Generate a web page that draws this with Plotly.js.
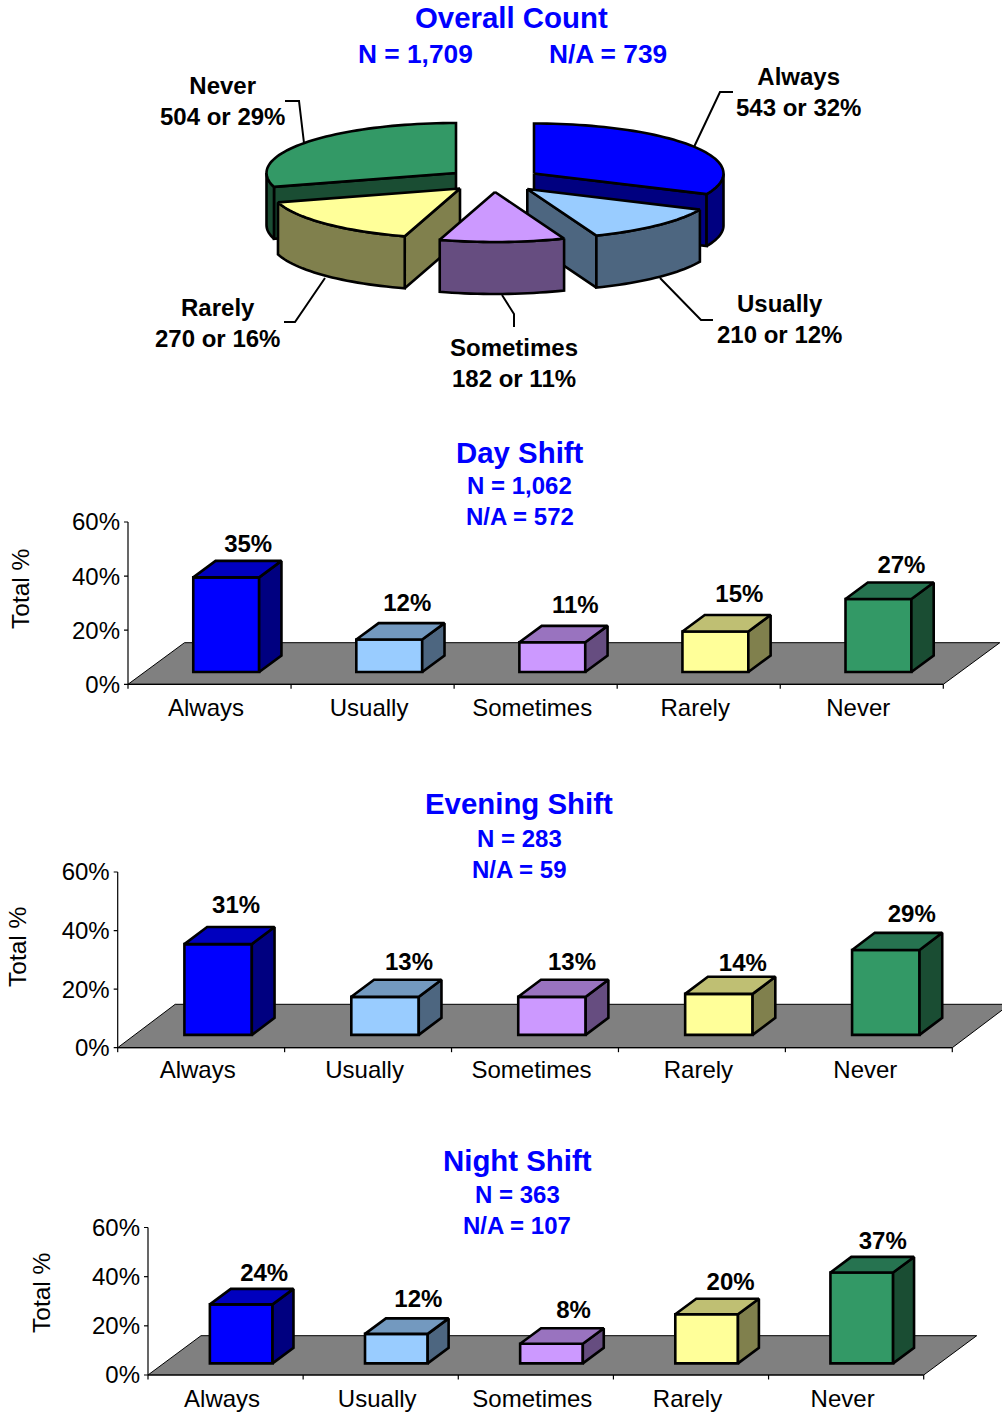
<!DOCTYPE html>
<html>
<head>
<meta charset="utf-8">
<script src="https://cdn.plot.ly/plotly-3.0.1.min.js"></script>
<style>html,body{margin:0;padding:0;background:#fff}#chart{width:1002px;height:1412px}</style>
</head>
<body>
<div id="chart"></div>
<script>
// ---------- data ----------
const categories = ['Always', 'Usually', 'Sometimes', 'Rarely', 'Never'];
const overallCounts = [543, 210, 182, 270, 504];
const overallPercents = [32, 12, 11, 16, 29];
const overallN = '1,709';
const overallNA = '739';
const dayValues = [35, 12, 11, 15, 27];
const dayN = '1,062';
const dayNA = '572';
const eveningValues = [31, 13, 13, 14, 29];
const eveningN = '283';
const eveningNA = '59';
const nightValues = [24, 12, 8, 20, 37];
const nightN = '363';
const nightNA = '107';
const yTickValues = [0, 20, 40, 60];

// ---------- styling ----------
const W = 1002, H = 1412;
const FONT = 'Liberation Sans, Arial, sans-serif';
const BLUE = '#0000FF';
const frontColors = ['#0000FF', '#99CCFF', '#CC99FF', '#FFFF99', '#339966'];
const topColors = ['#0000BF', '#7399BF', '#9973BF', '#BFBF73', '#267350'];
const sideColors = ['#000080', '#4D6680', '#664D80', '#80804D', '#1A4D33'];
const EDGE = 2.6;

const traces = [];
const annotations = [];
const shapes = [];
const layout = {
  width: W, height: H, margin: {l: 0, r: 0, t: 0, b: 0},
  paper_bgcolor: '#fff', plot_bgcolor: 'rgba(0,0,0,0)',
  showlegend: false, barmode: 'overlay', hovermode: false,
  font: {family: FONT, color: '#000'}
};

function textAt(px, py, text, size, color, bold, extra) {
  annotations.push(Object.assign({
    xref: 'paper', yref: 'paper', x: px / W, y: 1 - py / H,
    xanchor: 'center', yanchor: 'middle', showarrow: false,
    text: bold ? '<b>' + text.replace('<br>', '</b><br><b>') + '</b>' : text,
    font: {family: FONT, size: size, color: color}
  }, extra || {}));
}

function poly(xs, ys, fill, xa, ya) {
  traces.push({
    type: 'scatter', mode: 'lines', x: xs, y: ys, xaxis: xa, yaxis: ya,
    fill: 'toself', fillcolor: fill, line: {color: '#000', width: EDGE, simplify: false},
    hoverinfo: 'skip', cliponaxis: false
  });
}

// ---------- overall 3-D pie ----------
layout.xaxis = {domain: [0, 1], range: [0, W], visible: false, fixedrange: true};
layout.yaxis = {domain: [1 - 430 / H, 1], range: [430, 0], visible: false, fixedrange: true};

const pieA = 189.5, pieB = 50, pieDepth = 52;
const pieCenters = [[534, 173.5], [527.3, 189], [495, 192], [460, 188.5], [456, 173]];
const pieOrder = [4, 0, 3, 1, 2];
const leaderLines = [
  [[733, 92], [720, 92], [694, 147]],
  [[713, 320], [701, 320], [660, 278]],
  [[514, 327], [514, 314], [502, 295]],
  [[284, 322], [295, 322], [325, 278]],
  [[285, 101], [299, 101], [304, 143]]
];
const pieLabelPos = [[798, 92.5], [779, 319], [514, 363.5], [217, 322.5], [222, 101.5]];

leaderLines.forEach(l => traces.push({
  type: 'scatter', mode: 'lines', x: l.map(p => p[0]), y: l.map(p => p[1]),
  xaxis: 'x', yaxis: 'y', line: {color: '#000', width: 2}, hoverinfo: 'skip'
}));

const total = overallCounts.reduce((a, b) => a + b, 0);
const rad = d => d * Math.PI / 180;
let running = 0;
const pieAngles = overallCounts.map(c => {
  const a = [running / total * 360, (running + c) / total * 360];
  running += c;
  return a;
});
function arcPoints(c, t0, t1, drop) {
  const n = Math.max(2, Math.ceil(Math.abs(t1 - t0) / 2));
  const pts = [];
  for (let k = 0; k <= n; k++) {
    const t = rad(t0 + (t1 - t0) * k / n);
    pts.push([c[0] + pieA * Math.sin(t), c[1] - pieB * Math.cos(t) + drop]);
  }
  return pts;
}
pieOrder.forEach(i => {
  const c = pieCenters[i], t0 = pieAngles[i][0], t1 = pieAngles[i][1];
  const drawPts = (pts, col) => poly(pts.map(p => p[0]), pts.map(p => p[1]), col, 'x', 'y');
  const cut = t => {
    const e = arcPoints(c, t, t, 0)[0];
    drawPts([c, e, [e[0], e[1] + pieDepth], [c[0], c[1] + pieDepth], c], sideColors[i]);
  };
  if (Math.sin(rad(t0)) < -1e-6) cut(t0);
  if (Math.sin(rad(t1)) > 1e-6) cut(t1);
  const a0 = Math.max(t0, 90), a1 = Math.min(t1, 270);
  if (a1 > a0) {
    const upper = arcPoints(c, a0, a1, 0);
    const lower = arcPoints(c, a1, a0, pieDepth);
    drawPts(upper.concat(lower, [upper[0]]), sideColors[i]);
  }
  drawPts([c].concat(arcPoints(c, t0, t1, 0), [c]), frontColors[i]);
});

textAt(512, 18, 'Overall Count', 29.4, BLUE, true);
textAt(415.5, 54, 'N = ' + overallN, 26.3, BLUE, true);
textAt(607.5, 54, 'N/A = ' + overallNA, 26.3, BLUE, true);
categories.forEach((cat, i) => {
  const p = pieLabelPos[i];
  textAt(p[0], p[1], cat + '<br>' + overallCounts[i] + ' or ' + overallPercents[i] + '%', 24, '#000', true);
});

// ---------- 3-D bar panels ----------
const BAR_W = 0.404, FRONT = 0.295, DEPTH = 0.395;
const panels = [
  {values: dayValues, title: 'Day Shift', n: dayN, na: dayNA,
   left: 128, right: 943.3, y0: 684.3, y60: 522, floorDX: 56.5, floorDY: 41.6,
   titleX: 519.5, titleY: [452, 485.5, 517], yTitle: [21, 589], labelGap: 2,
   labelDX: [22, 18, 23, 24, 23], labelDY: [15, 18, 19, 19, 16]},
  {values: eveningValues, title: 'Evening Shift', n: eveningN, na: eveningNA,
   left: 117.7, right: 952.3, y0: 1047.7, y60: 872, floorDX: 57.5, floorDY: 43.4,
   titleX: 519, titleY: [804, 838, 869], yTitle: [17, 947], labelGap: 0,
   labelDX: [18, 24, 20, 24, 26], labelDY: [20, 16, 16, 12, 17]},
  {values: nightValues, title: 'Night Shift', n: nightN, na: nightNA,
   left: 148, right: 923.7, y0: 1375, y60: 1227.5, floorDX: 53, floorDY: 39.3,
   titleX: 517, titleY: [1160, 1194, 1225], yTitle: [41, 1293], labelGap: 2,
   labelDX: [23, 22, 22, 24, 21], labelDY: [14, 17, 16, 15, 14]}
];

panels.forEach((p, idx) => {
  const k = idx + 2, xa = 'x' + k, ya = 'y' + k;
  const pxX = (p.right - p.left) / categories.length;
  const pxY = (p.y0 - p.y60) / 60;
  const dX = p.floorDX / pxX, dY = p.floorDY / pxY;
  const GAP_X = 7, GAP_Y = 5;

  layout['xaxis' + k] = {
    domain: [(p.left - GAP_X) / W, 1],
    range: [-GAP_X / pxX, (W - p.left) / pxX],
    anchor: ya, showgrid: false, zeroline: false, showline: false, ticks: '',
    tickmode: 'array',
    tickvals: categories.map((c, i) => i + 0.5 - 3.5 / pxX),
    ticktext: categories, tickangle: 0, ticklabelstandoff: p.labelGap,
    tickfont: {family: FONT, size: 24, color: '#000'}, fixedrange: true
  };
  layout['yaxis' + k] = {
    domain: [1 - (p.y0 + GAP_Y) / H, 1 - (p.y60 - 2) / H],
    range: [-GAP_Y / pxY, 60 + 2 / pxY],
    anchor: xa, showgrid: false, zeroline: false, showline: false, ticks: '',
    tickmode: 'array', tickvals: yTickValues, ticktext: yTickValues.map(v => v + '%'),
    tickfont: {family: FONT, size: 24, color: '#000'}, fixedrange: true
  };

  // floor
  const n = categories.length;
  shapes.push({
    type: 'path', xref: xa, yref: ya, layer: 'below',
    path: `M0,0 L${n},0 L${n + dX},${dY} L${dX},${dY} Z`,
    fillcolor: '#808080', line: {color: '#000', width: 1}
  });

  // axis lines and tick marks
  const ax = [0, 0, null, 0, n], ay = [0, 60, null, 0, 0];
  yTickValues.forEach(v => { ax.push(-4 / pxX, 0, null); ay.push(v, v, null); });
  for (let i = 0; i <= n; i++) { ax.push(i, i, null); ay.push(0, -4.5 / pxY, null); }
  traces.push({type: 'scatter', mode: 'lines', x: ax, y: ay, xaxis: xa, yaxis: ya,
    line: {color: '#000', width: 1.2}, hoverinfo: 'skip', connectgaps: false});

  const shiftX = FRONT * dX, base = FRONT * dY, bw = BAR_W, bdx = DEPTH * dX, bdy = DEPTH * dY;
  const cx = categories.map((c, i) => i + 0.5 + shiftX);

  // front faces
  traces.push({type: 'bar', x: cx, y: p.values, base: base, width: bw, xaxis: xa, yaxis: ya,
    marker: {color: frontColors, line: {color: '#000', width: EDGE}}, hoverinfo: 'skip'});

  // side and top faces
  p.values.forEach((v, i) => {
    const x0 = cx[i] - bw / 2, x1 = cx[i] + bw / 2, t = base + v;
    poly([x1, x1 + bdx, x1 + bdx, x1, x1], [base, base + bdy, t + bdy, t, base], sideColors[i], xa, ya);
    poly([x0, x0 + bdx, x1 + bdx, x1, x0], [t, t + bdy, t + bdy, t, t], topColors[i], xa, ya);
  });

  // value labels
  traces.push({type: 'scatter', mode: 'text', xaxis: xa, yaxis: ya,
    x: p.values.map((v, i) => cx[i] + p.labelDX[i] / pxX),
    y: p.values.map((v, i) => base + v + bdy + p.labelDY[i] / pxY),
    text: p.values.map(v => '<b>' + v + '%</b>'),
    textposition: 'middle center', cliponaxis: false,
    textfont: {family: FONT, size: 24, color: '#000'}, hoverinfo: 'skip'});

  textAt(p.titleX, p.titleY[0], p.title, 29.4, BLUE, true);
  textAt(p.titleX, p.titleY[1], 'N = ' + p.n, 24, BLUE, true);
  textAt(p.titleX, p.titleY[2], 'N/A = ' + p.na, 24, BLUE, true);
  textAt(p.yTitle[0], p.yTitle[1], 'Total %', 24.5, '#000', false, {textangle: -90});
});

layout.annotations = annotations;
layout.shapes = shapes;
Plotly.newPlot('chart', traces, layout, {displayModeBar: false, staticPlot: true});
</script>
</body>
</html>
